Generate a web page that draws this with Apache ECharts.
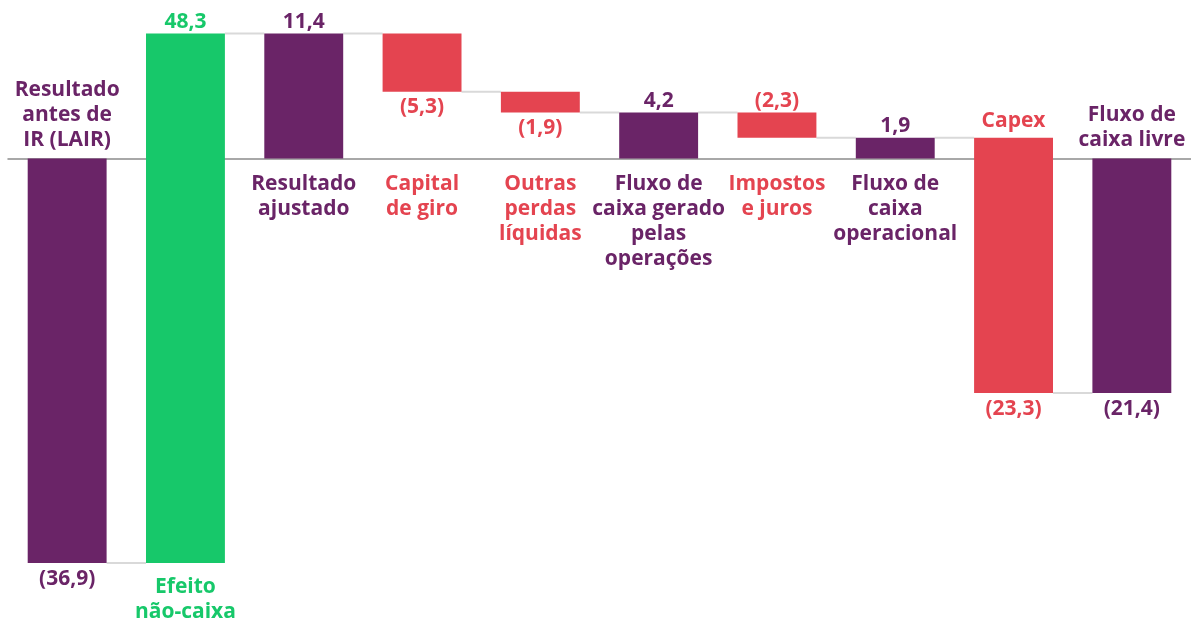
<!DOCTYPE html>
<html>
<head>
<meta charset="utf-8">
<script src="https://cdn.jsdelivr.net/npm/echarts@6/dist/echarts.min.js"></script>
<style>
    html, body { margin: 0; padding: 0; background: #ffffff; }
    #chart { width: 1191px; height: 620px; }
</style>
</head>
<body>
<div id="chart"></div>
<script>
    // categorias e valores (R$ mi)
    const categories = [
        'Resultado\nantes de\nIR (LAIR)',
        'Efeito\nnão-caixa',
        'Resultado\najustado',
        'Capital\nde giro',
        'Outras\nperdas\nlíquidas',
        'Fluxo de\ncaixa gerado\npelas\noperações',
        'Impostos\ne juros',
        'Fluxo de\ncaixa\noperacional',
        'Capex',
        'Fluxo de\ncaixa livre'
    ];
    const values = [-36.9, 48.3, 11.4, -5.3, -1.9, 4.2, -2.3, 1.9, -23.3, -21.4];
    const isTotal = [true, false, true, false, false, true, false, true, false, true];

    // onde vai cada rótulo
    const valueSide = ['end', 'end', 'end', 'end', 'end', 'end', 'top', 'end', 'end', 'end'];
    const nameSide = ['aboveZero', 'end', 'belowZero', 'belowZero', 'belowZero', 'belowZero', 'belowZero', 'belowZero', 'top', 'aboveZero'];

    const PURPLE = '#6a2467';
    const GREEN = '#17c86a';
    const RED = '#e44450';
    const FONT = 'bold 21px "Open Sans", sans-serif';

    let running = 0;
    const bars = [];
    for (let i = 0; i < values.length; i++) {
        let start, end;
        if (isTotal[i]) {
            start = 0;
            end = values[i];
        } else {
            start = running;
            end = running + values[i];
        }
        running = end;
        bars.push([i, start, end]);
    }

    function fmt(v) {
        const s = Math.abs(v).toFixed(1).replace('.', ',');
        return v < 0 ? '(' + s + ')' : s;
    }

    function colorOf(i) {
        if (isTotal[i]) return PURPLE;
        return values[i] < 0 ? RED : GREEN;
    }

    function renderItem(params, api) {
        const i = api.value(0);
        const start = api.value(1);
        const end = api.value(2);
        const p0 = api.coord([i, start]);
        const p1 = api.coord([i, end]);
        const zeroY = api.coord([i, 0])[1];
        const band = api.size([1, 0])[0];
        const w = band * 0.667;
        const x = p0[0] - w / 2;
        const top = Math.min(p0[1], p1[1]);
        const bottom = Math.max(p0[1], p1[1]);
        const color = colorOf(i);
        const children = [];

        children.push({
            type: 'rect',
            shape: { x: x, y: top, width: w, height: bottom - top },
            style: { fill: color }
        });

        if (i < bars.length - 1) {
            children.push({
                type: 'line',
                shape: { x1: x + w, y1: p1[1], x2: x + band, y2: p1[1] },
                style: { stroke: '#d9d9d9', lineWidth: 2 },
                z2: -1
            });
        }

        // valor
        const neg = values[i] < 0;
        let vy, va;
        if (valueSide[i] === 'top' || (valueSide[i] === 'end' && !neg)) {
            vy = top - 1; va = 'bottom';
        } else {
            vy = bottom + 5; va = 'top';
        }
        children.push({
            type: 'text',
            style: {
                text: fmt(values[i]), x: p0[0], y: vy,
                align: 'center', verticalAlign: va,
                font: FONT, fill: color
            }
        });

        // nome
        let ny, na;
        if (nameSide[i] === 'aboveZero') { ny = zeroY - 6; na = 'bottom'; }
        else if (nameSide[i] === 'belowZero') { ny = zeroY + 13; na = 'top'; }
        else if (nameSide[i] === 'top') { ny = top - 4; na = 'bottom'; }
        else { ny = bottom + 11; na = 'top'; }
        children.push({
            type: 'text',
            style: {
                text: categories[i], x: p0[0], y: ny,
                align: 'center', verticalAlign: na,
                font: FONT, lineHeight: 25, fill: color
            }
        });

        return { type: 'group', children: children };
    }

    const chart = echarts.init(document.getElementById('chart'));
    chart.setOption({
        animation: false,
        grid: { left: 8, right: 0, top: 27, bottom: 23 },
        xAxis: {
            type: 'category',
            data: categories,
            axisLabel: { show: false },
            axisTick: { show: false },
            axisLine: { onZero: true, lineStyle: { color: '#8c8c8c', width: 1.5 } }
        },
        yAxis: {
            type: 'value',
            min: -40,
            max: 12,
            show: false,
            splitLine: { show: false }
        },
        series: [{
            type: 'custom',
            renderItem: renderItem,
            encode: { x: 0, y: [1, 2] },
            data: bars,
            clip: false,
            z: 3
        }]
    });
</script>
</body>
</html>
